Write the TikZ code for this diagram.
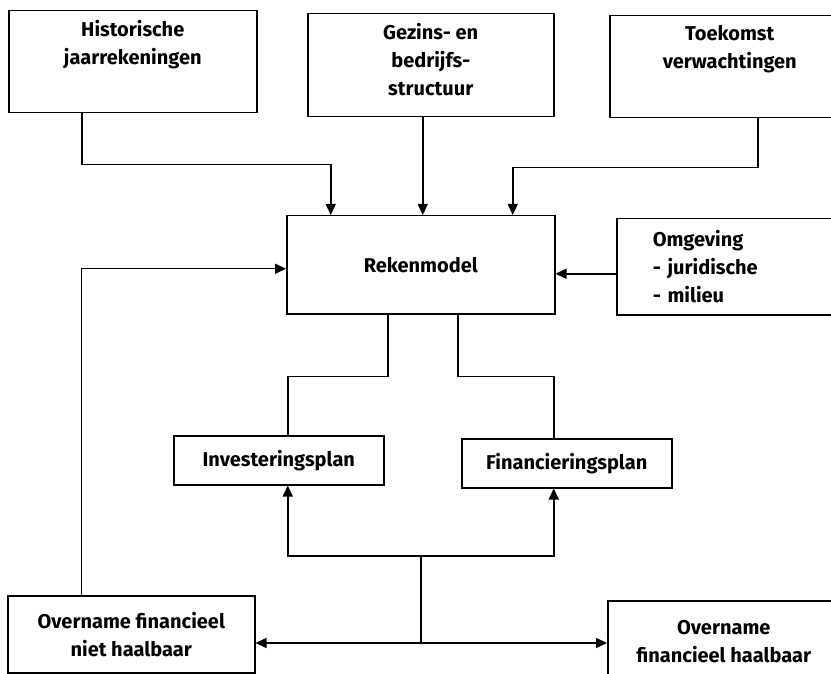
\documentclass[tikz,border=0pt]{standalone}
\usepackage{fontspec}
\setmainfont{Fira Sans}
\usetikzlibrary{positioning,calc,arrows.meta}

\begin{document}
\begin{tikzpicture}[x=1pt,y=-1pt,line width=1.5pt,
  font=\bfseries\fontsize{20}{28}\selectfont]
  \useasboundingbox (0,0) rectangle (831,674);
  \clip (0,0) rectangle (831,674);
  \begin{scope}[
    every node/.style={
      rectangle,
      draw,
      line width=1.5pt,
      inner sep=0pt,
      align=center,
    },
    setanchor/.style={
      anchor=north west,
    },
    toptext/.style={
      draw=none,
      anchor=north,
      yshift=-10pt,
    },
    ]
    % Historische jaarrekeningen
    \node [setanchor,minimum width=248,minimum height=102,
      label={[toptext]north:Historische\\jaarrekeningen}] (hist) at (8,10) {};

    % Gezins- en bedrijfsstructuur
    \node [setanchor,minimum width=246,minimum height=103,
      label={[toptext]north:Gezins- en\\bedrijfs-\\structuur}] (gezin) at (307,13) {};

    % Toekomst verwachtingen
    \node [setanchor,minimum width=240,minimum height=102,
      label={[toptext]north:Toekomst\\verwachtingen}] (toek) at (609,15) {};

    % Rekenmodel
    \node [setanchor,minimum width=268,minimum height=98] (rek) at (286,215) {Rekenmodel};

    % Omgeving
    \node [setanchor,minimum height=96,text width=160,inner xsep=36pt,align=left] (omg) at (616,218)
    {Omgeving\\- juridische\\- milieu};

    % Investeringsplan
    \node [setanchor,minimum width=210,minimum height=49] (inv) at (173,435) {Investeringsplan};

    % Financieringsplan
    \node [setanchor,minimum width=210,minimum height=49] (fin) at (461,438) {Financieringsplan};

    % Overname niet haalbaar
    \node [setanchor,minimum width=247,minimum height=77] (niet) at (7,595)
    {Overname financieel\\niet haalbaar};

    % Overname haalbaar
    \node [setanchor,minimum width=232,minimum height=82] (haal) at (607,600)
    {Overname\\financieel haalbaar};
  \end{scope}
  \begin{scope}[
    myarrow/.style={
      -{Triangle[length=11pt,width=10pt]},
    },
    ]
    % Path inputs
    \draw [myarrow] ([xshift=-51]hist.south) -- ++(0,51) -| ([xshift=-90]rek.north);
    \draw [myarrow] ([xshift=-8]gezin.south) -- ([xshift=-8]gezin.south |- rek.north);
    \draw [myarrow] ([xshift=28]toek.south) -- ++(0,49) -| ([xshift=92]rek.north);
    \draw [myarrow] ([yshift=-7]omg.west) -- ([yshift=-7]omg.west -| rek.east);

    % Path rek
    \draw ([xshift=-33]rek.south) -- ++(0,62) -| ([xshift=9]inv.north);
    \draw ([xshift=37]rek.south) -- ++(0,62) -| ([xshift=-13]fin.north);

    % Path feedback
    \coordinate (fork) at (421,556);
    \coordinate (base) at (421,643);
    \draw (fork) -- (base);
    \draw [myarrow] (fork) -| ([xshift=9]inv.south);
    \draw [myarrow] (fork) -| ([xshift=-13]fin.south);
    \draw [myarrow] (base) -- (base -| niet.east);
    \draw [myarrow] (base) -- (base -| haal.west);
    \draw [myarrow] ([xshift=-50]niet.north) |- ([yshift=-4]rek.west);
  \end{scope}
\end{tikzpicture}
\end{document}
